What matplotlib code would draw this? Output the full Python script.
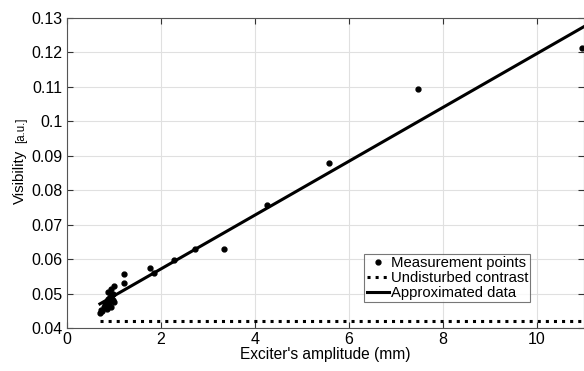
import numpy as np
import matplotlib.pyplot as plt

plt.rcParams['font.family'] = ['Liberation Sans', 'DejaVu Sans']

# measured points (amplitude in mm, visibility)
meas_x = [0.70, 0.72, 0.75, 0.78, 0.80, 0.82, 0.85, 0.86, 0.88, 0.90, 0.92, 0.93,
          0.95, 0.97, 0.98, 1.00, 0.88, 0.93, 0.99, 1.21, 1.21, 1.76, 1.86,
          2.27, 2.73, 3.35, 4.26, 5.57, 7.46, 10.95]
meas_y = [0.0443, 0.0452, 0.0448, 0.0460, 0.0470, 0.0465, 0.0478, 0.0455, 0.0485,
          0.0472, 0.0490, 0.0462, 0.0495, 0.0480, 0.0500, 0.0475, 0.0505, 0.0512,
          0.0522, 0.0530, 0.0556, 0.0573, 0.0559, 0.0597, 0.0628, 0.0628, 0.0756,
          0.0878, 0.1094, 0.1213]

# undisturbed contrast level
base_x = [0.70, 11.0]
base_y = [0.042, 0.042]

# linear approximation
fit_x = [0.70, 11.0]
fit_y = [0.0470, 0.1275]

fig = plt.figure(figsize=(5.84, 3.71), dpi=100)
ax = fig.add_axes([67/584, 1-328/371, 517/584, 310/371])

ax.plot(meas_x, meas_y, '.', color='black', markersize=7, label='Measurement points')
ax.plot(base_x, base_y, ':', color='black', linewidth=2.2, label='Undisturbed contrast')
ax.plot(fit_x, fit_y, '-', color='black', linewidth=2.2, label='Approximated data')

ax.set_xlim(0, 11)
ax.set_ylim(0.04, 0.13)
ax.set_xticks([0, 2, 4, 6, 8, 10])
ax.set_yticks(np.arange(0.04, 0.1301, 0.01))
ax.set_yticklabels(['0.04', '0.05', '0.06', '0.07', '0.08', '0.09', '0.1', '0.11', '0.12', '0.13'])
ax.grid(color='#e0e0e0', linewidth=0.8)
ax.set_axisbelow(True)
ax.tick_params(direction='in', top=True, right=True, labelsize=11.5, colors='#333333',
               length=4, labelcolor='black', pad=3)
for s in ax.spines.values():
    s.set_color('#555555')

ax.set_xlabel("Exciter's amplitude (mm)", fontsize=11.2, labelpad=0)
fig.text(20/584, 1-204/371, 'Visibility', rotation=90, fontsize=10.8,
         ha='center', va='bottom')
fig.text(21/584, 1-143/371, '[a.u.]', rotation=90, fontsize=8.3,
         ha='center', va='bottom')

leg = ax.legend(loc='lower right', bbox_to_anchor=(0.896, 0.084), fontsize=10.7,
                frameon=True, fancybox=False, edgecolor='#555555', borderpad=0.15,
                handlelength=1.5, handletextpad=0.1, labelspacing=0.05, borderaxespad=0)
leg.get_frame().set_linewidth(0.8)

fig.savefig('out.png')
